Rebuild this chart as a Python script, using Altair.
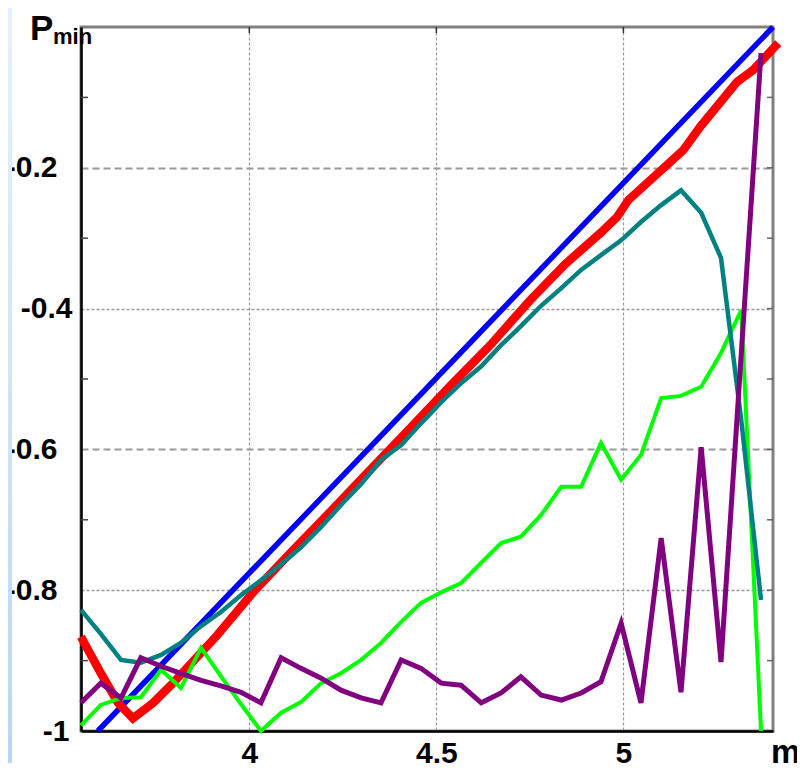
import altair as alt
import pandas as pd

# ---- data ----
m_grid = [3.550, 3.603, 3.657, 3.710, 3.764, 3.817, 3.871, 3.924, 3.978, 4.031,
          4.085, 4.138, 4.192, 4.245, 4.299, 4.352, 4.406, 4.459, 4.513, 4.566,
          4.620, 4.673, 4.726, 4.780, 4.834, 4.887, 4.940, 4.994, 5.047, 5.101,
          5.154, 5.208, 5.261, 5.315, 5.368]

green = [-0.992, -0.963, -0.953, -0.952, -0.913, -0.939, -0.882, -0.922, -0.962, -1.0,
         -0.974, -0.959, -0.932, -0.918, -0.899, -0.875, -0.845, -0.818, -0.803, -0.790,
         -0.761, -0.733, -0.724, -0.693, -0.653, -0.653, -0.591, -0.643, -0.608, -0.527,
         -0.524, -0.511, -0.463, -0.402, -1.0]

teal = [-0.828, -0.862, -0.899, -0.903, -0.892, -0.875, -0.851, -0.831, -0.807, -0.786,
        -0.763, -0.739, -0.710, -0.679, -0.649, -0.615, -0.594, -0.563, -0.533, -0.506,
        -0.482, -0.452, -0.425, -0.396, -0.371, -0.345, -0.324, -0.303, -0.277, -0.253,
        -0.232, -0.264, -0.328, -0.558, -0.814]

purple = [-0.960, -0.932, -0.953, -0.896, -0.908, -0.918, -0.928, -0.936, -0.945, -0.960,
          -0.896, -0.911, -0.925, -0.942, -0.953, -0.960, -0.899, -0.911, -0.932, -0.935,
          -0.960, -0.946, -0.923, -0.949, -0.956, -0.946, -0.930, -0.847, -0.960, -0.726,
          -0.945, -0.597, -0.902, None, -0.037]

red_m = [3.550, 3.569, 3.601, 3.649, 3.689, 3.743, 3.796, 3.855, 3.914, 4.015,
         4.117, 4.216, 4.323, 4.430, 4.537, 4.644, 4.751, 4.844, 4.938, 4.983,
         5.013, 5.160, 5.205, 5.304, 5.347, 5.414]
red_p = [-0.866, -0.885, -0.916, -0.960, -0.982, -0.960, -0.932, -0.898, -0.864, -0.800,
         -0.743, -0.689, -0.629, -0.570, -0.510, -0.452, -0.388, -0.337, -0.293, -0.270,
         -0.246, -0.175, -0.142, -0.078, -0.061, -0.023]

blue_m = [3.595, 5.400]
blue_p = [-1.0, 0.0]

y_major = [-1.0, -0.8, -0.6, -0.4, -0.2]
y_minor_left = [-0.9, -0.7, -0.5, -0.3, -0.1]
y_minor_right = [-0.9, -0.8, -0.7, -0.6, -0.5, -0.4, -0.3, -0.2, -0.1]
x_major = [4.0, 4.5, 5.0]

series_colors = {"blue": "#0000FF", "red": "#FF0000", "green": "#00FF00",
                 "teal": "#008080", "purple": "#800080"}
series_widths = {"blue": 5.5, "red": 8.5, "green": 4, "teal": 4.5, "purple": 5}

rows = []
for name, xs, ys in [("green", m_grid, green), ("teal", m_grid, teal),
                     ("purple", m_grid, purple), ("red", red_m, red_p),
                     ("blue", blue_m, blue_p)]:
    for x, y in zip(xs, ys):
        if y is not None:
            rows.append({"m": x, "P": y, "series": name})
df = pd.DataFrame(rows)

W, H = 692, 704
FONT = "Liberation Sans"

xscale = alt.Scale(domain=[3.55, 5.4], nice=False, zero=False)
yscale = alt.Scale(domain=[-1, 0], nice=False, zero=False)

coarse = "abs(datum.value + 0.2) < 0.01 || abs(datum.value + 0.6) < 0.01"
xaxis = alt.Axis(values=x_major, title=None, labelFont=FONT, labelFontSize=30,
                 labelFontWeight="bold", labelColor="black", labelPadding=7,
                 labelExpr="format(datum.value, '~g')",
                 ticks=False, tickSize=0, labelFlush=False,
                 domainColor="black", domainWidth=2.5,
                 grid=True, gridColor="#9a9a9a", gridDash=[3, 2], gridWidth=1.2,
                 zindex=0)
yaxis = alt.Axis(values=y_major, title=None, labelFont=FONT, labelFontSize=30,
                 labelFontWeight="bold", labelColor="black",
                 labelExpr="datum.value == -1 ? '-1' : '-' + format(abs(datum.value), '.1f')",
                 labelPadding={"condition": [
                     {"test": "abs(datum.value + 0.4) < 0.01", "value": 9},
                     {"test": "abs(datum.value + 1) < 0.01", "value": 12}],
                     "value": 24},
                 ticks=False, tickSize=0,
                 domainColor="black", domainWidth=2.5,
                 grid=True, gridColor="#9a9a9a",
                 gridDash={"condition": {"test": coarse, "value": [7, 4]}, "value": [3, 2]},
                 gridWidth={"condition": {"test": coarse, "value": 2.2}, "value": 1.4},
                 gridOpacity={"condition": {"test": "abs(datum.value + 1) < 0.01", "value": 0}, "value": 1},
                 zindex=0)

X = alt.X("m:Q", scale=xscale, axis=xaxis)
Y = alt.Y("P:Q", scale=yscale, axis=yaxis)

layers = []

# light blue strip at the far left of the page
grad = alt.LinearGradient(gradient="linear",
                          stops=[alt.GradientStop(color="#e6f2fd", offset=0),
                                 alt.GradientStop(color="#b8d6f7", offset=1)],
                          x1=0, x2=0, y1=0, y2=1)

# minor ticks
layers.append(alt.Chart(pd.DataFrame({"P": y_minor_left})).mark_rule(
    color="#444444", strokeWidth=1.5).encode(y=Y, x=alt.value(0), x2=alt.value(7)))
layers.append(alt.Chart(pd.DataFrame({"P": y_minor_right})).mark_rule(
    color="#666666", strokeWidth=1.5).encode(y=Y, x=alt.value(W - 6), x2=alt.value(W)))
layers.append(alt.Chart(pd.DataFrame({"m": x_major})).mark_rule(
    color="#333333", strokeWidth=1.5).encode(x=X, y=alt.value(0), y2=alt.value(6)))

for name in ["blue", "red", "green", "teal", "purple"]:
    layers.append(
        alt.Chart(df).transform_filter(alt.datum.series == name)
        .mark_line(color=series_colors[name], strokeWidth=series_widths[name],
                   strokeJoin="miter", clip=False)
        .encode(x=X, y=Y, order="m:Q")
    )

layers.append(alt.Chart(pd.DataFrame({"a": [0]})).mark_rect(color=grad).encode(
    x=alt.value(-73), x2=alt.value(-69), y=alt.value(-19), y2=alt.value(741)))

def label(txt, x, y, size, align="left"):
    return alt.Chart(pd.DataFrame({"t": [txt]})).mark_text(
        align=align, baseline="alphabetic", font=FONT, fontSize=size,
        fontWeight="bold", color="black").encode(
        text="t:N", x=alt.value(x), y=alt.value(y))

layers.append(label("P", -51, 13, 35))
layers.append(label("min", -28, 16.5, 22))
layers.append(label("m", 690, 736, 33))

chart = alt.layer(*layers).properties(
    width=W, height=H,
    autosize=alt.AutoSizeParams(type="none"),
    padding={"left": 73, "top": 19, "right": 24, "bottom": 32},
    background="white",
).configure_view(stroke="#808080", strokeWidth=3)

chart.save("out.html", embed_options={"renderer": "svg", "actions": False})
